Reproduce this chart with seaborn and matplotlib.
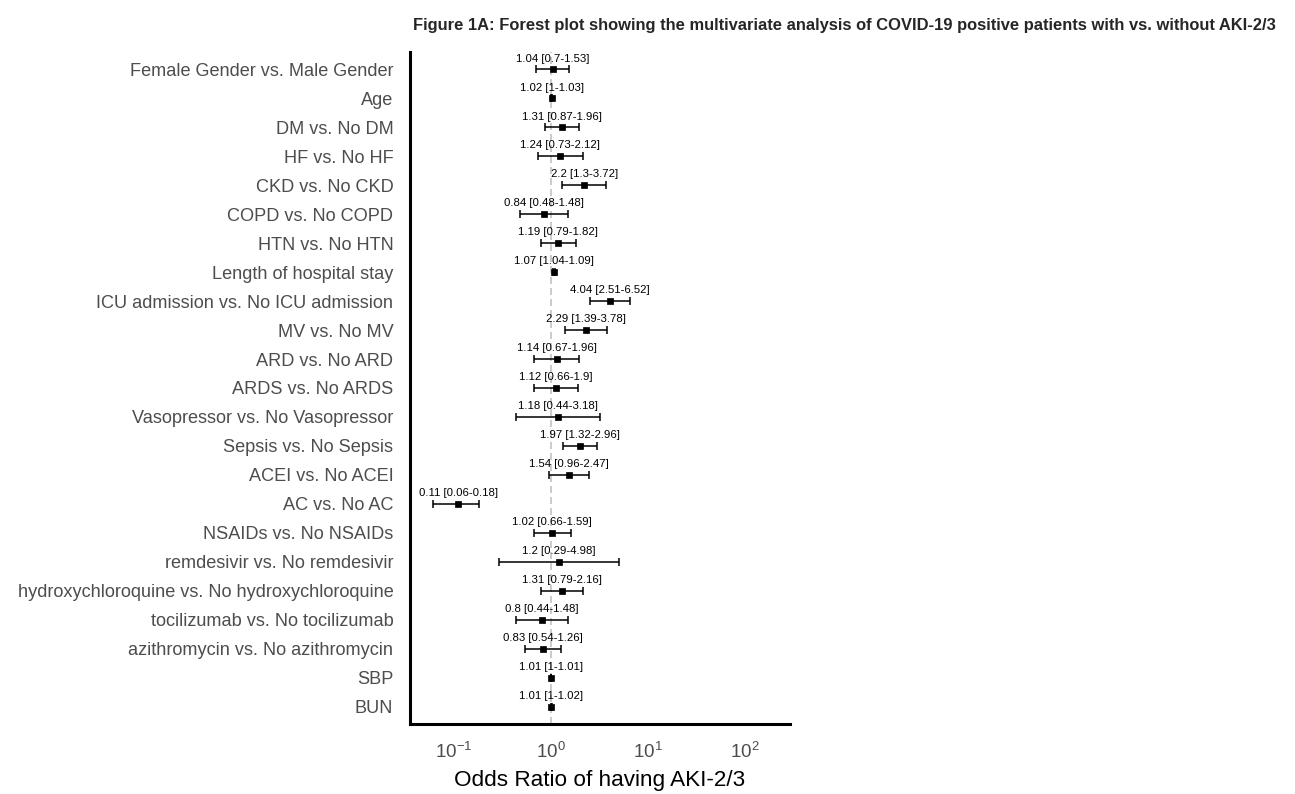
import numpy as np
import pandas as pd
import matplotlib
matplotlib.use("Agg")
import matplotlib.pyplot as plt
import seaborn as sns

variables = [
    "Female Gender vs. Male Gender", "Age", "DM vs. No DM", "HF vs. No HF",
    "CKD vs. No CKD", "COPD vs. No COPD", "HTN vs. No HTN", "Length of hospital stay",
    "ICU admission vs. No ICU admission", "MV vs. No MV", "ARD vs. No ARD",
    "ARDS vs. No ARDS", "Vasopressor vs. No Vasopressor", "Sepsis vs. No Sepsis",
    "ACEI vs. No ACEI", "AC vs. No AC", "NSAIDs vs. No NSAIDs",
    "remdesivir vs. No remdesivir", "hydroxychloroquine vs. No hydroxychloroquine",
    "tocilizumab vs. No tocilizumab", "azithromycin vs. No azithromycin", "SBP", "BUN",
]
odds_ratio = [1.04, 1.02, 1.31, 1.24, 2.2, 0.84, 1.19, 1.07, 4.04, 2.29, 1.14, 1.12,
              1.18, 1.97, 1.54, 0.11, 1.02, 1.2, 1.31, 0.8, 0.83, 1.01, 1.01]
ci_lower = [0.7, 1.0, 0.87, 0.73, 1.3, 0.48, 0.79, 1.04, 2.51, 1.39, 0.67, 0.66,
            0.44, 1.32, 0.96, 0.06, 0.66, 0.29, 0.79, 0.44, 0.54, 1.0, 1.0]
ci_upper = [1.53, 1.03, 1.96, 2.12, 3.72, 1.48, 1.82, 1.09, 6.52, 3.78, 1.96, 1.9,
            3.18, 2.96, 2.47, 0.18, 1.59, 4.98, 2.16, 1.48, 1.26, 1.01, 1.02]
decade_ticks = [0.1, 1, 10, 100]
decade_labels = [r"$10^{-1}$", r"$10^{0}$", r"$10^{1}$", r"$10^{2}$"]

df = pd.DataFrame({"variable": variables, "OR": odds_ratio,
                   "lo": ci_lower, "hi": ci_upper})
n = len(df)
df["pos"] = np.arange(n)[::-1]
df["label"] = [f"{o:g} [{l:g}-{h:g}]" for o, l, h in zip(df.OR, df.lo, df.hi)]

sns.set_theme(style="white")
plt.rcParams["font.family"] = ["Liberation Sans", "DejaVu Sans"]
plt.rcParams["mathtext.fontset"] = "custom"
plt.rcParams["mathtext.rm"] = "Liberation Sans"
plt.rcParams["mathtext.it"] = "Liberation Sans"
plt.rcParams["mathtext.default"] = "regular"

fig = plt.figure(figsize=(12.95, 7.94), dpi=100)
ax = fig.add_axes([0.3166, 0.0882, 0.2934, 0.8463])
ax.set_xscale("log")

# reference line at OR = 1
ax.axvline(1, color="#bdbdbd", linestyle=(0, (4.6, 2.6)), linewidth=1.1, zorder=1)
ax.errorbar(df.OR, df.pos, xerr=[df.OR - df.lo, df.hi - df.OR], fmt="none",
            ecolor="black", elinewidth=1.1, capsize=3.2, capthick=1.1, zorder=2)
sns.scatterplot(data=df, x="OR", y="pos", marker="s", s=24, color="black",
                edgecolor="black", linewidth=0.5, ax=ax, zorder=3, legend=False)
for _, r in df.iterrows():
    ax.text(r.OR, r.pos + 0.2, r.label, ha="center", va="bottom",
            fontsize=8.2, color="black")

ax.set_xlim(10 ** -1.454, 10 ** 2.464)
ax.set_ylim(-0.6, n - 0.4)
ax.set_yticks(df.pos)
ax.set_yticklabels(df.variable, fontsize=13.1, color="#4d4d4d")
ax.set_xticks(decade_ticks)
ax.set_xticklabels(decade_labels, fontsize=13.5, color="#4d4d4d")
ax.minorticks_off()
ax.tick_params(axis="x", length=5, width=2, color="black", pad=8)
ax.tick_params(axis="y", length=0, pad=12)
ax.set_xlabel("Odds Ratio of having AKI-2/3", fontsize=16.2, color="black", labelpad=6)
ax.set_ylabel("")
for side in ["top", "right"]:
    ax.spines[side].set_visible(False)
for side in ["left", "bottom"]:
    ax.spines[side].set_color("black")
    ax.spines[side].set_linewidth(2.2)

fig.text(0.985, 0.968, "Figure 1A: Forest plot showing the multivariate analysis of COVID-19 positive patients with vs. without AKI-2/3",
         ha="right", va="center", fontsize=11.9, fontweight="bold",
         family=["Liberation Sans Narrow", "Liberation Sans", "DejaVu Sans"])

fig.savefig("out.png", dpi=100)
